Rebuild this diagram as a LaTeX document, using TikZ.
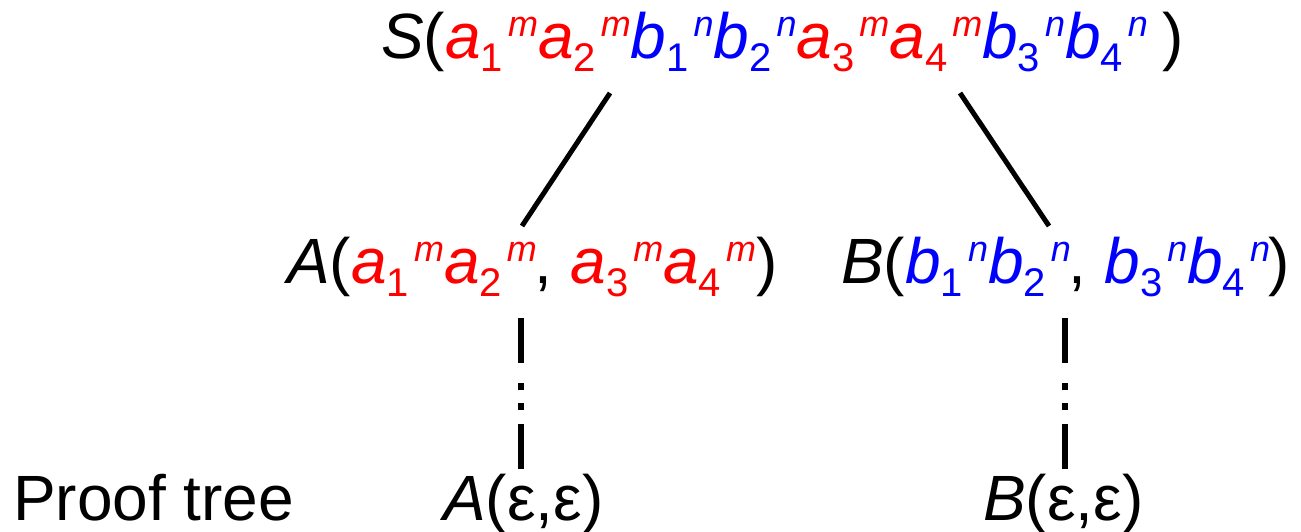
\documentclass[tikz,border=0pt]{standalone}
\usepackage{fontspec}
\setmainfont{Liberation Sans}
\definecolor{myred}{RGB}{255,0,0}
\definecolor{myblue}{RGB}{0,0,255}
\newcommand\mainsz{\fontsize{64}{70}\selectfont}
\newcommand\sbs[1]{\raisebox{-13pt}{\fontsize{40}{40}\selectfont #1}}
\newcommand\sps[1]{\raisebox{22pt}{\fontsize{36}{36}\selectfont\textit{#1}}}
\newcommand\sy[3]{\textit{#1}\sbs{#2}\hspace{5pt}\sps{#3}\hspace{0pt}}
\newcommand\ra[1]{\textcolor{myred}{\sy{a}{#1}{m}}}
\newcommand\rb[1]{\textcolor{myblue}{\sy{b}{#1}{n}}}
\begin{document}
\begin{tikzpicture}[x=1pt,y=-1pt,
  lbl/.style={inner sep=0pt,anchor=base west,font=\mainsz},
  edge/.style={line width=5pt},
  dots/.style={line width=6pt,dash pattern=on 45pt off 20pt on 7pt off 13pt on 7pt off 14pt on 45pt off 200pt}]
\useasboundingbox (0,0) rectangle (1301,531);
\node[lbl] (top) at (381,58) {\textit{S}(\ra{1}\ra{2}\rb{1}\rb{2}\ra{3}\ra{4}\rb{3}\rb{4}\hspace{15pt})};
\node[lbl] (amid) at (287,283) {\textit{A}(\ra{1}\ra{2}\hspace{-2pt}, \ra{3}\ra{4}\hspace{0pt})};
\node[lbl] (bmid) at (841,283) {\textit{B}(\rb{1}\rb{2}\hspace{-2pt}, \rb{3}\rb{4}\hspace{-2pt})};
\node[lbl] (proof) at (13,520) {Proof tree};
\node[lbl] (abot) at (443,520) {\textit{A}(ε,ε)};
\node[lbl] (bbot) at (983,520) {\textit{B}(ε,ε)};
\coordinate (t1) at (610,93);
\coordinate (t2) at (960,93);
\coordinate (m1) at (522,226);
\coordinate (m2) at (1049,226);
\coordinate (d1a) at (521,318);
\coordinate (d1b) at (521,469);
\coordinate (d2a) at (1065,318);
\coordinate (d2b) at (1065,469);
\draw[edge] (t1) -- (m1);
\draw[edge] (t2) -- (m2);
\draw[dots] (d1a) -- (d1b);
\draw[dots] (d2a) -- (d2b);
\end{tikzpicture}
\end{document}
